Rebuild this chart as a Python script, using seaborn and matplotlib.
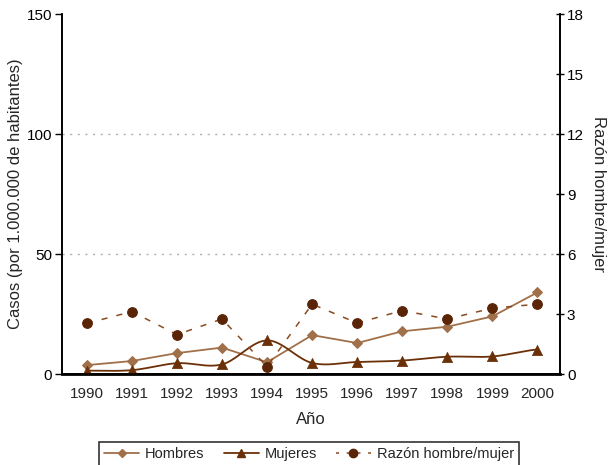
import numpy as np
import pandas as pd
import seaborn as sns
import matplotlib
matplotlib.use("Agg")
import matplotlib.pyplot as plt
from matplotlib.lines import Line2D

years = [1990, 1991, 1992, 1993, 1994, 1995, 1996, 1997, 1998, 1999, 2000]
hombres = [3.7, 5.4, 8.7, 11.0, 4.9, 16.2, 12.9, 17.8, 19.7, 24.0, 34.0]
mujeres = [1.4, 1.6, 4.5, 4.0, 14.0, 4.6, 5.0, 5.6, 7.2, 7.3, 10.2]
razon = [2.53, 3.12, 1.97, 2.75, 0.37, 3.49, 2.55, 3.17, 2.75, 3.29, 3.49]

sns.set_style("white")
plt.rcParams["font.family"] = ["Liberation Sans", "DejaVu Sans"]

c_h = "#a0704a"
c_m = "#6b3008"
c_r = "#5a2406"
FS = 11

df = pd.DataFrame({"year": years, "Hombres": hombres, "Mujeres": mujeres, "Razon": razon})

fig = plt.figure(figsize=(6.13, 4.65), dpi=100)
ax = fig.add_axes([62 / 613, 91 / 465, 498 / 613, 360 / 465])
ax2 = ax.twinx()

sns.lineplot(data=df, x="year", y="Hombres", ax=ax, color=c_h, marker="D", markersize=5,
             markeredgecolor=c_h, linewidth=1.3, legend=False)

# smooth line for Mujeres (cubic Hermite spline through the data, drawing only)
x = np.array(years, float)
y = np.array(mujeres, float)
xs, ys = [], []
for i in range(len(x) - 1):
    p0 = y[i - 1] if i > 0 else y[i]
    p3 = y[i + 2] if i + 2 < len(y) else y[i + 1]
    m1 = (y[i + 1] - p0) / 2
    m2 = (p3 - y[i]) / 2
    t = np.linspace(0, 1, 20)
    h00 = 2 * t**3 - 3 * t**2 + 1
    h10 = t**3 - 2 * t**2 + t
    h01 = -2 * t**3 + 3 * t**2
    h11 = t**3 - t**2
    xs.extend(x[i] + t * (x[i + 1] - x[i]))
    ys.extend(h00 * y[i] + h10 * m1 + h01 * y[i + 1] + h11 * m2)
ax.plot(xs, ys, color=c_m, linewidth=1.3)
sns.scatterplot(data=df, x="year", y="Mujeres", ax=ax, color=c_m, marker="^", s=55,
                edgecolor=c_m, linewidth=0.5, zorder=4, legend=False)

sns.lineplot(data=df, x="year", y="Razon", ax=ax2, color="#8a4a20", marker="o", markersize=7,
             markerfacecolor=c_r, markeredgecolor=c_r, linewidth=1.1,
             linestyle=(0, (4, 6)), legend=False)

ax.set_xlim(1989.45, 2000.5)
ax.set_ylim(0, 150)
ax2.set_ylim(0, 18)
ax.set_xticks(years)
ax.set_xticklabels([str(v) for v in years])
ax.set_yticks([0, 50, 100, 150])
ax2.set_yticks([0, 3, 6, 9, 12, 15, 18])
for v in [50, 100]:
    ax.axhline(v, color="#b0b0b0", linestyle=(0, (1.5, 4)), linewidth=1, zorder=0)

ax.set_xlabel("Año", fontsize=FS + 1, labelpad=8)
ax.set_ylabel("Casos (por 1.000.000 de habitantes)", fontsize=FS + 1, labelpad=3)
ax2.set_ylabel("Razón hombre/mujer", fontsize=FS + 1, rotation=270, labelpad=16)

for a in (ax, ax2):
    a.spines["top"].set_visible(False)
    for s in ("left", "right", "bottom"):
        a.spines[s].set_color("black")
        a.spines[s].set_linewidth(1.2)
ax.spines["bottom"].set_linewidth(2)
ax.tick_params(axis="y", direction="out", length=5, width=1, colors="black", labelsize=FS, pad=2, left=True)
ax.tick_params(axis="x", length=0, labelsize=FS, pad=9)
ax2.tick_params(axis="y", direction="inout", length=6, width=1, colors="black", labelsize=FS, pad=2, right=True)

handles = [
    Line2D([], [], color=c_h, marker="D", markersize=4, linewidth=1.3),
    Line2D([], [], color=c_m, marker="^", markersize=6, linewidth=1.3),
    Line2D([], [], color="#8a4a20", marker="o", markersize=6, markerfacecolor=c_r,
           markeredgecolor=c_r, linewidth=1.1, linestyle=(0, (2, 5))),
]
leg = fig.legend(handles, ["Hombres", "Mujeres", "Razón hombre/mujer"], loc="upper center",
                 bbox_to_anchor=(309 / 613, 1 - 442 / 465), ncol=3, fontsize=FS - 0.5, frameon=True,
                 fancybox=False, edgecolor="black", handlelength=2.4, columnspacing=1.3,
                 borderpad=0.35, handletextpad=0.4, borderaxespad=0)
leg.get_frame().set_linewidth(1.2)

fig.savefig("out.png", dpi=100)
